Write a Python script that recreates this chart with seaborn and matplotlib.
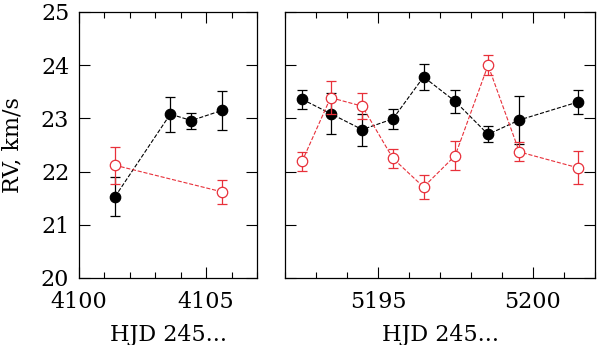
import matplotlib
matplotlib.use("Agg")
import matplotlib.pyplot as plt
import numpy as np
import pandas as pd
import seaborn as sns
from matplotlib.ticker import MultipleLocator

# left panel (HJD 2454100+)
left_black_x = [4101.42, 4103.59, 4104.42, 4105.62]
left_black_y = [21.53, 23.08, 22.96, 23.15]
left_black_err = [0.36, 0.33, 0.15, 0.37]
left_red_x = [4101.41, 4105.62]
left_red_y = [22.12, 21.62]
left_red_err = [0.35, 0.22]

# right panel (HJD 2455192+)
right_black_x = [5192.55, 5193.47, 5194.49, 5195.48, 5196.47, 5197.49, 5198.55, 5199.56, 5201.46]
right_black_y = [23.36, 23.09, 22.79, 22.99, 23.78, 23.32, 22.70, 22.97, 23.31]
right_black_err = [0.18, 0.38, 0.30, 0.19, 0.25, 0.22, 0.15, 0.45, 0.22]
right_red_x = [5192.55, 5193.47, 5194.49, 5195.48, 5196.47, 5197.49, 5198.55, 5199.56, 5201.46]
right_red_y = [22.19, 23.39, 23.23, 22.25, 21.71, 22.30, 24.00, 22.37, 22.07]
right_red_err = [0.17, 0.31, 0.24, 0.18, 0.23, 0.27, 0.19, 0.18, 0.31]

RED = "#e8303a"

sns.set_theme(style="ticks")
plt.rcParams.update({
    "font.family": "DejaVu Serif",
    "font.size": 16,
    "xtick.labelsize": 16,
    "ytick.labelsize": 16,
    "axes.labelsize": 16,
    "text.color": "black",
    "axes.labelcolor": "black",
    "xtick.color": "black",
    "ytick.color": "black",
    "xtick.direction": "in",
    "ytick.direction": "in",
    "xtick.top": True,
    "ytick.right": True,
    "xtick.major.size": 8,
    "ytick.major.size": 8,
    "xtick.minor.size": 4,
    "xtick.major.width": 0.8,
    "ytick.major.width": 0.8,
    "xtick.minor.width": 0.8,
    "axes.linewidth": 0.9,
    "axes.edgecolor": "black",
})


def draw_series(ax, x, y, err, color, filled, z):
    ax.errorbar(x, y, yerr=err, fmt="none", ecolor=color, elinewidth=0.9,
                capsize=3.5, capthick=0.9, zorder=z)
    df = pd.DataFrame({"x": x, "y": y})
    sns.lineplot(data=df, x="x", y="y", ax=ax, sort=False, color=color,
                 linestyle="--", linewidth=0.8, marker="o", markersize=7.5,
                 markerfacecolor=color if filled else "white",
                 markeredgecolor=color, markeredgewidth=0.9, zorder=z + 1)


fig = plt.figure(figsize=(6, 3.45), dpi=100)
ax1 = fig.add_axes([79 / 600, 1 - 278 / 345, 178 / 600, 266 / 345])
ax2 = fig.add_axes([285 / 600, 1 - 278 / 345, 310 / 600, 266 / 345])

draw_series(ax1, left_black_x, left_black_y, left_black_err, "black", True, 2)
draw_series(ax1, left_red_x, left_red_y, left_red_err, RED, False, 4)
draw_series(ax2, right_black_x, right_black_y, right_black_err, "black", True, 2)
draw_series(ax2, right_red_x, right_red_y, right_red_err, RED, False, 4)

ax1.set_xlim(4100, 4107)
ax2.set_xlim(5192, 5202)
for ax in (ax1, ax2):
    ax.set_ylim(20, 25)
    ax.xaxis.set_major_locator(MultipleLocator(5))
    ax.xaxis.set_minor_locator(MultipleLocator(1))
    ax.yaxis.set_major_locator(MultipleLocator(1))
    ax.set_xlabel("HJD 245...")
    ax.xaxis.set_label_coords(0.5, -0.172)
    ax.xaxis.label.set_va("top")
    ax.tick_params(axis="x", pad=9)
    ax.tick_params(axis="y", pad=7)
    for s in ax.spines.values():
        s.set_visible(True)

ax1.set_ylabel("RV, km/s")
ax1.yaxis.set_label_coords(-0.31, 0.5)
ax1.set_xticks([4100, 4105])
ax1.set_xticklabels(["4100", "4105"])
ax2.set_ylabel("")
ax2.set_yticklabels([])

fig.savefig("out.png", dpi=100)
